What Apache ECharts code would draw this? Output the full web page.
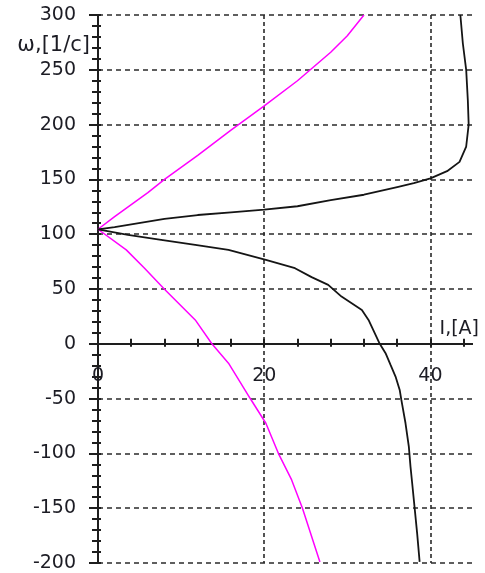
<!DOCTYPE html>
<html>
<head>
<meta charset="utf-8">
<script src="https://cdn.jsdelivr.net/npm/echarts@6/dist/echarts.min.js"></script>
<style>
  html, body { margin: 0; padding: 0; background: #fff; }
  #chart { width: 485px; height: 573px; }
</style>
</head>
<body>
<div id="chart"></div>
<script>
// Speed–current characteristics ω(I) of the drive: two magenta curves and
// the black characteristic with its upper and lower branches.

// Axis ticks and labels
const xTickValues = [0, 4, 8, 12, 16, 20, 24, 28, 32, 36, 40, 44];
const xLabelValues = [0, 20, 40];
const yLabelValues = [-200, -150, -100, -50, 0, 50, 100, 150, 200, 250, 300];

// Magenta curve, rising branch
const magentaUpI = [0, 2, 4, 6, 8, 12, 16, 20, 24, 28, 30, 32];
const magentaUpW = [104.5, 116, 127, 138, 150, 172, 195, 217, 240, 266, 281, 300];

// Magenta curve, falling branch
const magentaDownI = [0, 3.4, 5.6, 8.0, 11.7, 13.7, 15.7, 18.3, 20.2, 21.7, 23.3, 24.6, 26.7];
const magentaDownW = [104.5, 85.7, 69, 49.8, 21.8, 0, -17.7, -49.7, -72.5, -99.9, -124.2, -150, -199];

// Black curve, upper branch
const blackUpI = [0, 2, 4, 8, 12, 16, 20, 24, 28, 32, 36, 38, 40, 42, 43.5, 44.3, 44.6, 44.5, 44.3, 43.9, 43.6];
const blackUpW = [104.5, 106.5, 109, 114, 117.5, 120, 122.5, 125.5, 131, 136, 143, 146.5, 151, 157.5, 166, 180, 200, 222, 250, 274, 300];

// Black curve, lower branch
const blackDownI = [0, 3.6, 7.6, 11.7, 15.7, 20.2, 23.7, 25.7, 27.7, 29.3, 31.75, 32.55, 33.9, 34.6, 35.2, 35.8, 36.3, 36.5, 37.0, 37.4, 37.6, 37.8, 38.1, 38.4, 38.7];
const blackDownW = [104.5, 99.4, 94.9, 90.3, 85.7, 76.6, 69, 60.8, 53.8, 43.1, 30.9, 21.8, 0, -8.6, -19.3, -29.9, -42.1, -51.2, -72.5, -93.8, -112, -127, -150, -173, -199];

const zip = (xs, ys) => xs.map((x, i) => [x, ys[i]]);

const FONT = 'DejaVu Sans';
const TEXT = '#1c1c24';
const INK = '#1e1e1e';
const axisLineStyle = { color: INK, width: 2 };
const tickLineStyle = { color: INK, width: 2 };
const gridLineStyle = { color: '#2a2a2a', width: 1.6 };

const X_MIN = 0, X_MAX = 45;
const Y_MIN = -200, Y_MAX = 300;
const X_LABEL_GAP = 23; // distance of the current labels below the ω = 0 line

// every current axis sits on ω = 0 of the first speed axis
const xOnZero = { show: true, onZero: true, onZeroAxisIndex: 0, lineStyle: axisLineStyle };
const yLine = { show: true, onZero: false, lineStyle: axisLineStyle };

const chart = echarts.init(document.getElementById('chart'), null, { renderer: 'canvas' });

const option = {
  animation: false,
  backgroundColor: '#ffffff',
  grid: { left: 98, right: 13, top: 15, bottom: 10, containLabel: false, outerBoundsMode: 'none' },
  xAxis: [
    {
      type: 'value', min: X_MIN, max: X_MAX, interval: 20, position: 'bottom',
      axisLine: xOnZero,
      axisTick: { show: false },
      axisLabel: {
        show: true, margin: X_LABEL_GAP, hideOverlap: false,
        formatter: v => (xLabelValues.indexOf(v) >= 0 ? String(v) : ''),
        fontFamily: FONT, fontSize: 19, color: TEXT
      },
      splitLine: {
        show: true, showMinLine: false, showMaxLine: false,
        lineStyle: Object.assign({}, gridLineStyle, { type: [4, 3] })
      },
      name: 'I,[A]', nameLocation: 'end', nameGap: 7,
      nameTextStyle: {
        fontFamily: FONT, fontSize: 19, color: TEXT,
        align: 'right', verticalAlign: 'bottom', padding: [0, 0, 5, 0]
      }
    },
    {
      // ticks below the current axis
      type: 'value', min: X_MIN, max: X_MAX, position: 'bottom',
      axisLine: xOnZero,
      axisTick: { show: true, customValues: xTickValues, length: 3, lineStyle: tickLineStyle },
      axisLabel: { show: false },
      splitLine: { show: false }
    },
    {
      // ticks above the current axis
      type: 'value', min: X_MIN, max: X_MAX, position: 'bottom',
      axisLine: xOnZero,
      axisTick: { show: true, inside: true, customValues: xTickValues, length: 5, lineStyle: tickLineStyle },
      axisLabel: { show: false },
      splitLine: { show: false }
    }
  ],
  yAxis: [
    {
      type: 'value', min: Y_MIN, max: Y_MAX, interval: 50, position: 'left',
      axisLine: yLine,
      axisTick: { show: true, length: 9, lineStyle: tickLineStyle },
      minorTick: { show: true, splitNumber: 5, length: 6, lineStyle: tickLineStyle },
      axisLabel: {
        customValues: yLabelValues, margin: 22,
        fontFamily: FONT, fontSize: 19, color: TEXT
      },
      splitLine: {
        show: true,
        lineStyle: Object.assign({}, gridLineStyle, { type: [5, 4] })
      },
      name: 'ω,[1/c]', nameLocation: 'end', nameGap: -31,
      nameTextStyle: {
        fontFamily: FONT, fontSize: 21, color: TEXT,
        align: 'right', verticalAlign: 'middle', padding: [0, 8, 0, 0]
      }
    },
    {
      // ticks on the inner side of the speed axis
      type: 'value', min: Y_MIN, max: Y_MAX, interval: 50, position: 'left',
      axisLine: yLine,
      axisTick: { show: true, inside: true, length: 3, lineStyle: tickLineStyle },
      minorTick: { show: true, splitNumber: 5, length: 3, lineStyle: tickLineStyle },
      axisLabel: { show: false },
      splitLine: { show: false }
    }
  ],
  series: [
    {
      name: 'magenta-up', type: 'line', xAxisIndex: 0, yAxisIndex: 0,
      data: zip(magentaUpI, magentaUpW), symbol: 'none', silent: true,
      lineStyle: { color: '#ff00ff', width: 1.5 }
    },
    {
      name: 'magenta-down', type: 'line', xAxisIndex: 0, yAxisIndex: 0,
      data: zip(magentaDownI, magentaDownW), symbol: 'none', silent: true,
      lineStyle: { color: '#ff00ff', width: 1.5 }
    },
    {
      name: 'black-up', type: 'line', xAxisIndex: 0, yAxisIndex: 0,
      data: zip(blackUpI, blackUpW), symbol: 'none', silent: true,
      lineStyle: { color: '#151515', width: 1.8 }
    },
    {
      name: 'black-down', type: 'line', xAxisIndex: 0, yAxisIndex: 0,
      data: zip(blackDownI, blackDownW), symbol: 'none', silent: true,
      lineStyle: { color: '#151515', width: 1.8 }
    }
  ]
};

chart.setOption(option);

// The current labels are laid out from the grid's lower edge; shift them up so
// they sit just below the ω = 0 line, measured through the speed axis scale.
const yBottom = chart.convertToPixel({ yAxisIndex: 0 }, Y_MIN);
const yZero = chart.convertToPixel({ yAxisIndex: 0 }, 0);
chart.setOption({
  xAxis: [{ axisLabel: { margin: X_LABEL_GAP - (yBottom - yZero) } }, {}, {}]
});
</script>
</body>
</html>
